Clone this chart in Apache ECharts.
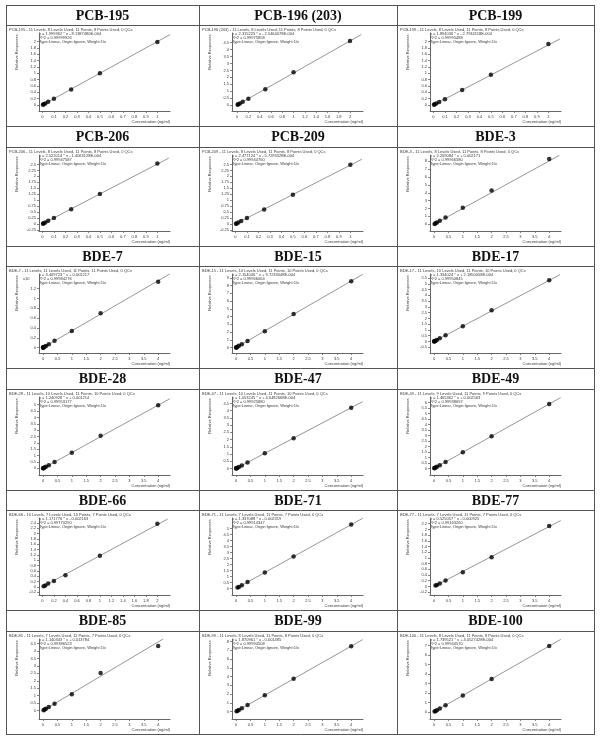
<!DOCTYPE html>
<html><head><meta charset="utf-8">
<script src="https://cdn.jsdelivr.net/npm/echarts@6/dist/echarts.min.js"></script>
<style>html,body{margin:0;padding:0;background:#fff}#c{width:602px;height:743px}</style>
</head><body><div id="c"></div>
<script>
// ================= DATA =================
const panelNames = ['PCB-195','PCB-196 (203)','PCB-199','PCB-206','PCB-209','BDE-3','BDE-7','BDE-15','BDE-17','BDE-28','BDE-47','BDE-49','BDE-66','BDE-71','BDE-77','BDE-85','BDE-99','BDE-100'];
const levelInfo = [
  'PCB-195 - 11 Levels, 8 Levels Used, 11 Points, 8 Points Used, 0 QCs',
  'PCB-196 (203) - 11 Levels, 8 Levels Used, 11 Points, 8 Points Used, 0 QCs',
  'PCB-199 - 11 Levels, 8 Levels Used, 11 Points, 8 Points Used, 0 QCs',
  'PCB-206 - 11 Levels, 8 Levels Used, 11 Points, 8 Points Used, 0 QCs',
  'PCB-209 - 11 Levels, 8 Levels Used, 11 Points, 8 Points Used, 0 QCs',
  'BDE-3 - 11 Levels, 8 Levels Used, 11 Points, 8 Points Used, 0 QCs',
  'BDE-7 - 11 Levels, 11 Levels Used, 11 Points, 11 Points Used, 0 QCs',
  'BDE-15 - 11 Levels, 10 Levels Used, 11 Points, 10 Points Used, 0 QCs',
  'BDE-17 - 11 Levels, 10 Levels Used, 11 Points, 10 Points Used, 0 QCs',
  'BDE-28 - 11 Levels, 10 Levels Used, 11 Points, 10 Points Used, 0 QCs',
  'BDE-47 - 11 Levels, 10 Levels Used, 11 Points, 10 Points Used, 0 QCs',
  'BDE-49 - 11 Levels, 9 Levels Used, 11 Points, 9 Points Used, 0 QCs',
  'BDE-66 - 10 Levels, 7 Levels Used, 10 Points, 7 Points Used, 0 QCs',
  'BDE-71 - 11 Levels, 7 Levels Used, 11 Points, 7 Points Used, 0 QCs',
  'BDE-77 - 11 Levels, 7 Levels Used, 11 Points, 7 Points Used, 0 QCs',
  'BDE-85 - 11 Levels, 7 Levels Used, 11 Points, 7 Points Used, 0 QCs',
  'BDE-99 - 11 Levels, 8 Levels Used, 11 Points, 8 Points Used, 0 QCs',
  'BDE-100 - 11 Levels, 8 Levels Used, 11 Points, 8 Points Used, 0 QCs'
];
const equations = [
  'y = 1.999362 * x - 8.1387480E-004','y = 2.315225 * x - 2.5464078E-004','y = 1.894036 * x - 2.7934118E-004',
  'y = 2.522014 * x - 1.4063128E-004','y = 2.477124 * x - 5.7293328E-004','y = 2.209084 * x + 0.002171',
  'y = 3.409723 * x + 0.001217','y = 2.154046 * x + 9.7233048E-004','y = 1.334024 * x + 2.1850058E-004',
  'y = 1.240928 * x + 0.001214','y = 1.053245 * x + 4.6482668E-004','y = 1.465362 * x + 0.002563',
  'y = 1.171776 * x - 0.002163','y = 1.337088 * x - 0.002319','y = 0.525057 * x - 0.000925',
  'y = 1.140343 * x + 0.013784','y = 1.870961 * x - 0.001485','y = 1.739521 * x + 4.0527428E-004'
];
const r2Values = ['R^2 = 0.99999926','R^2 = 0.99975858','R^2 = 0.99995488','R^2 = 0.99947587','R^2 = 0.99944760','R^2 = 0.99966580',
  'R^2 = 0.99984276','R^2 = 0.99966064','R^2 = 0.99950845','R^2 = 0.99953177','R^2 = 0.99925880','R^2 = 0.99938697',
  'R^2 = 0.99770290','R^2 = 0.99914347','R^2 = 0.99163260','R^2 = 0.99386523','R^2 = 0.99994508','R^2 = 0.99944570'];
const fitTypeText = 'Type:Linear, Origin:Ignore, Weight:1/x';
const xAxisTitle = 'Concentration (ng/ml)';
const yAxisTitle = 'Relative Responses';

// x tick labels
const xTicks1 = [0,0.1,0.2,0.3,0.4,0.5,0.6,0.7,0.8,0.9,1];
const xTicks2 = [0,0.2,0.4,0.6,0.8,1,1.2,1.4,1.6,1.8,2];
const xTicks4 = [0,0.5,1,1.5,2,2.5,3,3.5,4];
// y tick labels
const yTicks_0_2 = [0,0.2,0.4,0.6,0.8,1,1.2,1.4,1.6,1.8,2];
const yTicks_0_45 = [0,0.5,1,1.5,2,2.5,3,3.5,4,4.5];
const yTicks_m025_25 = [-0.25,0,0.25,0.5,0.75,1,1.25,1.5,1.75,2,2.25,2.5];
const yTicks_0_8 = [0,1,2,3,4,5,6,7,8];
const yTicks_0_12 = [0,0.2,0.4,0.6,0.8,1,1.2];
const yTicks_0_9 = [0,1,2,3,4,5,6,7,8,9];
const yTicks_m05_55 = [-0.5,0,0.5,1,1.5,2,2.5,3,3.5,4,4.5,5,5.5];
const yTicks_0_5 = [0,0.5,1,1.5,2,2.5,3,3.5,4,4.5,5];
const yTicks_0_6 = [0,0.5,1,1.5,2,2.5,3,3.5,4,4.5,5,5.5,6];
const yTicks_m02_24 = [-0.2,0,0.2,0.4,0.6,0.8,1,1.2,1.4,1.6,1.8,2,2.2,2.4];
const yTicks_m02_22 = [-0.2,0,0.2,0.4,0.6,0.8,1,1.2,1.4,1.6,1.8,2,2.2];
const yTicks_0_7 = [0,1,2,3,4,5,6,7];

// calibration points (concentration ng/ml, relative response) and fitted line ends
const conc_PCB195 = [0.005,0.01,0.025,0.05,0.1,0.25,0.5,1];
const resp_PCB195 = [0.01,0.02,0.05,0.1,0.2,0.49,1.0,1.99];
const fitX_PCB195 = [0,1.11]; const fitY_PCB195 = [0,2.22];

const conc_PCB196 = [0.01,0.02,0.05,0.1,0.2,0.5,1,2];
const resp_PCB196 = [0.02,0.05,0.12,0.23,0.45,1.14,2.37,4.62];
const fitX_PCB196 = [0,2.2]; const fitY_PCB196 = [0,5.09];

const conc_PCB199 = [0.005,0.01,0.025,0.05,0.1,0.25,0.5,1];
const resp_PCB199 = [0.01,0.02,0.05,0.09,0.18,0.47,0.95,1.92];
const fitX_PCB199 = [0,1.1]; const fitY_PCB199 = [0,2.08];

const conc_PCB206 = [0.005,0.01,0.025,0.05,0.1,0.25,0.5,1];
const resp_PCB206 = [0.01,0.03,0.06,0.13,0.25,0.62,1.26,2.54];
const fitX_PCB206 = [0,1.1]; const fitY_PCB206 = [0,2.77];

const conc_PCB209 = [0.005,0.01,0.025,0.05,0.1,0.25,0.5,1];
const resp_PCB209 = [0.01,0.02,0.06,0.12,0.25,0.61,1.23,2.49];
const fitX_PCB209 = [0,1.1]; const fitY_PCB209 = [0,2.72];

const conc_BDE3 = [0.02,0.05,0.1,0.2,0.4,1,2,4];
const resp_BDE3 = [0.04,0.11,0.22,0.44,0.86,2.1,4.3,8.3];
const fitX_BDE3 = [0,4.35]; const fitY_BDE3 = [0,8.75];

const conc_BDE7 = [0.002,0.005,0.01,0.02,0.05,0.1,0.2,0.4,1,2,4];
const resp_BDE7 = [0.001,0.002,0.003,0.007,0.017,0.034,0.07,0.14,0.34,0.7,1.34];   // x10
const fitX_BDE7 = [0,4.4]; const fitY_BDE7 = [0,1.5];

const conc_BDE15 = [0.005,0.01,0.02,0.05,0.1,0.2,0.4,1,2,4];
const resp_BDE15 = [0.01,0.02,0.04,0.11,0.22,0.43,0.86,2.12,4.32,8.55];
const fitX_BDE15 = [0,4.4]; const fitY_BDE15 = [0,9.45];

const conc_BDE17 = [0.005,0.01,0.02,0.05,0.1,0.2,0.4,1,2,4];
const resp_BDE17 = [0.007,0.013,0.027,0.067,0.13,0.27,0.53,1.33,2.7,5.3];
const fitX_BDE17 = [0,4.38]; const fitY_BDE17 = [0,5.8];

const conc_BDE28 = [0.005,0.01,0.02,0.05,0.1,0.2,0.4,1,2,4];
const resp_BDE28 = [0.006,0.012,0.025,0.062,0.124,0.25,0.5,1.22,2.55,4.95];
const fitX_BDE28 = [0,4.4]; const fitY_BDE28 = [0,5.46];

const conc_BDE47 = [0.005,0.01,0.02,0.05,0.1,0.2,0.4,1,2,4];
const resp_BDE47 = [0.005,0.011,0.021,0.053,0.105,0.21,0.42,1.05,2.1,4.2];
const fitX_BDE47 = [0,4.4]; const fitY_BDE47 = [0,4.63];

const conc_BDE49 = [0.01,0.02,0.05,0.1,0.2,0.4,1,2,4];
const resp_BDE49 = [0.015,0.03,0.073,0.15,0.29,0.59,1.47,2.93,5.86];
const fitX_BDE49 = [0,4.4]; const fitY_BDE49 = [0,6.45];

const conc_BDE66 = [0.02,0.05,0.1,0.2,0.4,1,2];
const resp_BDE66 = [0.02,0.05,0.12,0.22,0.43,1.17,2.37];
const fitX_BDE66 = [0,2.18]; const fitY_BDE66 = [0,2.55];

const conc_BDE71 = [0.05,0.1,0.2,0.4,1,2,4];
const resp_BDE71 = [0.07,0.13,0.27,0.53,1.34,2.67,5.35];
const fitX_BDE71 = [0,4.4]; const fitY_BDE71 = [0,5.88];

const conc_BDE77 = [0.05,0.1,0.2,0.4,1,2,4];
const resp_BDE77 = [0.03,0.05,0.1,0.21,0.5,1.02,2.12];
const fitX_BDE77 = [0,4.4]; const fitY_BDE77 = [0,2.31];

const conc_BDE85 = [0.02,0.05,0.1,0.2,0.4,1,2,4];
const resp_BDE85 = [0.03,0.07,0.13,0.24,0.47,1.1,2.53,4.33];
const fitX_BDE85 = [0,4.17]; const fitY_BDE85 = [0.01,4.8];

const conc_BDE99 = [0.02,0.05,0.1,0.2,0.4,1,2,4];
const resp_BDE99 = [0.04,0.09,0.19,0.37,0.75,1.87,3.74,7.48];
const fitX_BDE99 = [0,4.4]; const fitY_BDE99 = [0,8.23];

const conc_BDE100 = [0.02,0.05,0.1,0.2,0.4,1,2,4];
const resp_BDE100 = [0.03,0.09,0.17,0.35,0.7,1.74,3.48,6.96];
const fitX_BDE100 = [0,4.4]; const fitY_BDE100 = [0,7.65];

// ================= PANEL TABLE (built from the arrays) =================
const panels = [
  {x:conc_PCB195,y:resp_PCB195,fx:fitX_PCB195,fy:fitY_PCB195,xt:xTicks1,yt:yTicks_0_2,xr:[-0.03,1.11],yr:[-0.19,2.27]},
  {x:conc_PCB196,y:resp_PCB196,fx:fitX_PCB196,fy:fitY_PCB196,xt:xTicks2,yt:yTicks_0_45,xr:[-0.09,2.23],yr:[-0.43,5.2]},
  {x:conc_PCB199,y:resp_PCB199,fx:fitX_PCB199,fy:fitY_PCB199,xt:xTicks1,yt:yTicks_0_2,xr:[-0.03,1.11],yr:[-0.19,2.27]},
  {x:conc_PCB206,y:resp_PCB206,fx:fitX_PCB206,fy:fitY_PCB206,xt:xTicks1,yt:yTicks_m025_25,xr:[-0.03,1.11],yr:[-0.3,2.9]},
  {x:conc_PCB209,y:resp_PCB209,fx:fitX_PCB209,fy:fitY_PCB209,xt:xTicks1,yt:yTicks_m025_25,xr:[-0.03,1.11],yr:[-0.3,2.9]},
  {x:conc_BDE3,y:resp_BDE3,fx:fitX_BDE3,fy:fitY_BDE3,xt:xTicks4,yt:yTicks_0_8,xr:[-0.14,4.41],yr:[-0.86,8.8]},
  {x:conc_BDE7,y:resp_BDE7,fx:fitX_BDE7,fy:fitY_BDE7,xt:xTicks4,yt:yTicks_0_12,xr:[-0.14,4.41],yr:[-0.11,1.5],x10:true},
  {x:conc_BDE15,y:resp_BDE15,fx:fitX_BDE15,fy:fitY_BDE15,xt:xTicks4,yt:yTicks_0_9,xr:[-0.14,4.41],yr:[-0.7,9.5]},
  {x:conc_BDE17,y:resp_BDE17,fx:fitX_BDE17,fy:fitY_BDE17,xt:xTicks4,yt:yTicks_m05_55,xr:[-0.14,4.41],yr:[-1.0,5.85]},
  {x:conc_BDE28,y:resp_BDE28,fx:fitX_BDE28,fy:fitY_BDE28,xt:xTicks4,yt:yTicks_0_5,xr:[-0.14,4.41],yr:[-0.52,5.6]},
  {x:conc_BDE47,y:resp_BDE47,fx:fitX_BDE47,fy:fitY_BDE47,xt:xTicks4,yt:yTicks_0_45,xr:[-0.14,4.41],yr:[-0.45,4.95]},
  {x:conc_BDE49,y:resp_BDE49,fx:fitX_BDE49,fy:fitY_BDE49,xt:xTicks4,yt:yTicks_0_6,xr:[-0.14,4.41],yr:[-0.6,6.5]},
  {x:conc_BDE66,y:resp_BDE66,fx:fitX_BDE66,fy:fitY_BDE66,xt:xTicks2,yt:yTicks_m02_24,xr:[-0.06,2.22],yr:[-0.31,2.59]},
  {x:conc_BDE71,y:resp_BDE71,fx:fitX_BDE71,fy:fitY_BDE71,xt:xTicks4,yt:yTicks_0_5,xr:[-0.14,4.41],yr:[-0.55,5.9]},
  {x:conc_BDE77,y:resp_BDE77,fx:fitX_BDE77,fy:fitY_BDE77,xt:xTicks4,yt:yTicks_m02_22,xr:[-0.14,4.41],yr:[-0.3,2.4]},
  {x:conc_BDE85,y:resp_BDE85,fx:fitX_BDE85,fy:fitY_BDE85,xt:xTicks4,yt:yTicks_0_45,xr:[-0.14,4.41],yr:[-0.56,4.8]},
  {x:conc_BDE99,y:resp_BDE99,fx:fitX_BDE99,fy:fitY_BDE99,xt:xTicks4,yt:yTicks_0_8,xr:[-0.14,4.41],yr:[-0.85,8.3]},
  {x:conc_BDE100,y:resp_BDE100,fx:fitX_BDE100,fy:fitY_BDE100,xt:xTicks4,yt:yTicks_0_7,xr:[-0.14,4.41],yr:[-0.75,7.7]}
];

// ================= LAYOUT =================
const colL = [6, 199, 397], colR = [199, 397, 594];
const rowTitleTop = [5, 126, 246, 368, 490, 610];
const rowChartTop = [25, 147, 266, 389, 510, 631];
const rowBottom   = [126, 246, 368, 490, 610, 734];
const SANS = 'Liberation Sans, Arial, sans-serif';
const TXT = '#3a3a3a';
const AX = '#666';

const grids = [], xAxes = [], yAxes = [], series = [], graphics = [];

// table lines
const tableStroke = {stroke:'#555', lineWidth:1};
const hLines = [];
for (let r = 0; r < 6; r++) { hLines.push(rowTitleTop[r], rowChartTop[r]); }
hLines.push(rowBottom[5]);
hLines.forEach(y => graphics.push({type:'line', silent:true, shape:{x1:colL[0], y1:y+0.5, x2:colR[2]+1, y2:y+0.5}, style:tableStroke}));
[colL[0], colL[1], colL[2], colR[2]].forEach(x => graphics.push({type:'line', silent:true, shape:{x1:x+0.5, y1:rowTitleTop[0], x2:x+0.5, y2:rowBottom[5]+1}, style:tableStroke}));

panels.forEach((p, i) => {
  const c = i % 3, r = Math.floor(i / 3);
  const cl = colL[c], cr = colR[c];
  const ct = rowChartTop[r], cb = rowBottom[r];
  const pl = cl + 33, pw = 131;
  const pt = ct + 8, pb = cb - 15;
  grids.push({left: pl, top: pt, width: pw, height: pb - pt, outerBoundsMode: 'none', containLabel: false});

  xAxes.push({
    type:'value', gridIndex:i, min:p.xr[0], max:p.xr[1],
    axisLine:{show:true, onZero:false, lineStyle:{color:AX, width:1}},
    axisTick:{show:true, length:2, customValues:p.xt, lineStyle:{color:AX, width:0.8}},
    axisLabel:{show:true, customValues:p.xt, fontSize:4, color:TXT, margin:4, fontFamily:SANS, hideOverlap:false},
    splitLine:{show:false}
  });
  yAxes.push({
    type:'value', gridIndex:i, min:p.yr[0], max:p.yr[1],
    axisLine:{show:true, onZero:false, lineStyle:{color:AX, width:1}},
    axisTick:{show:true, length:2, customValues:p.yt, lineStyle:{color:AX, width:0.8}},
    axisLabel:{show:true, customValues:p.yt, fontSize:4, color:TXT, margin:3, fontFamily:SANS, hideOverlap:false},
    splitLine:{show:false}
  });

  series.push({
    type:'line', xAxisIndex:i, yAxisIndex:i, symbol:'none', silent:true, z:2,
    data: p.fx.map((v,k) => [v, p.fy[k]]),
    lineStyle:{color:'#7a7a7a', width:0.8}
  });
  series.push({
    type:'scatter', xAxisIndex:i, yAxisIndex:i, symbol:'circle', symbolSize:4.5, z:3,
    data: p.x.map((v,k) => [v, p.y[k]]),
    itemStyle:{color:'#000'}
  });

  // title
  graphics.push({type:'text', silent:true, x:(cl+cr)/2, y:(rowTitleTop[r]+rowChartTop[r])/2 + 1,
    style:{text:panelNames[i], fill:'#111', font:'bold 14px "Liberation Serif", "DejaVu Serif", serif', align:'center', verticalAlign:'middle'}});
  // header text
  const hs = (t, x, y) => graphics.push({type:'text', silent:true, x, y,
    style:{text:t, fill:TXT, font:'4px ' + SANS, align:'left', verticalAlign:'middle'}});
  hs(levelInfo[i], cl + 3, ct + 4.5);
  hs(equations[i], pl, ct + 8.7);
  hs(r2Values[i], pl, ct + 12.7);
  hs(fitTypeText, pl, ct + 17.2);
  // axis titles
  graphics.push({type:'text', silent:true, x: pl - 22, y: ct + 27, rotation: Math.PI/2,
    style:{text:yAxisTitle, fill:TXT, font:'4px ' + SANS, align:'center', verticalAlign:'middle'}});
  graphics.push({type:'text', silent:true, x: pl + pw, y: pb + 10.5,
    style:{text:xAxisTitle, fill:TXT, font:'4px ' + SANS, align:'right', verticalAlign:'middle'}});
  if (p.x10) {
    graphics.push({type:'text', silent:true, x: pl - 16, y: ct + 13,
      style:{text:'x10', fill:TXT, font:'4px ' + SANS, align:'left', verticalAlign:'middle'}});
  }
});

const chart = echarts.init(document.getElementById('c'), null, {renderer:'canvas'});
chart.setOption({
  animation:false,
  backgroundColor:'#fff',
  grid:grids, xAxis:xAxes, yAxis:yAxes, series:series,
  graphic:{elements:graphics}
});
</script></body></html>
